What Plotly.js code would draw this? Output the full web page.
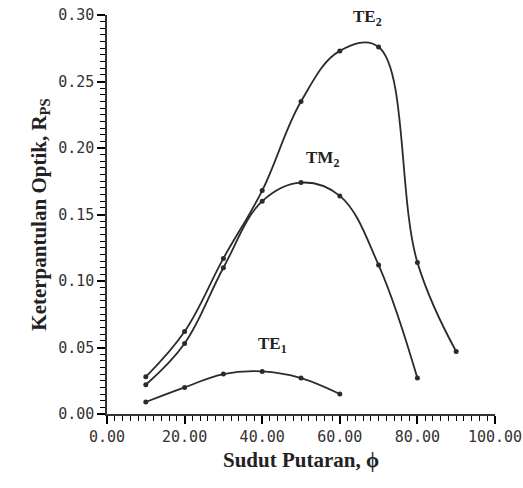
<!DOCTYPE html>
<html><head><meta charset="utf-8">
<script src="https://cdn.plot.ly/plotly-3.0.1.min.js"></script>
<style>html,body{margin:0;padding:0;background:#fff}</style>
</head><body><div id="chart" style="width:523px;height:488px"></div>
<script>
const te2X = [10, 20, 30, 40, 50, 60, 70, 80, 90];
const te2Y = [0.028, 0.062, 0.117, 0.168, 0.235, 0.273, 0.276, 0.114, 0.047];
const tm2X = [10, 20, 30, 40, 50, 60, 70, 80];
const tm2Y = [0.022, 0.053, 0.110, 0.160, 0.174, 0.164, 0.112, 0.027];
const te1X = [10, 20, 30, 40, 50, 60];
const te1Y = [0.009, 0.020, 0.030, 0.032, 0.027, 0.015];
const labels = ['TE<sub>2</sub>', 'TM<sub>2</sub>', 'TE<sub>1</sub>'];
const labelX = [67.2, 55.5, 42.6];
const labelY = [0.298, 0.192, 0.052];
const xRange = [0, 100];
const yRange = [0, 0.30];

const lineCol = '#2b2b2b';
function tr(x, y) {
  return {x: x, y: y, type: 'scatter', mode: 'lines+markers',
    line: {shape: 'spline', smoothing: 1.1, color: lineCol, width: 1.8},
    marker: {size: 5, color: lineCol}, showlegend: false, hoverinfo: 'skip'};
}
const tickFont = {family: 'DejaVu Sans Mono', size: 15, color: '#333'};
const titleFont = {family: 'Liberation Serif', size: 21, color: '#222'};
const base = {showgrid: false, zeroline: false, showline: true, linecolor: '#333', linewidth: 1.5,
  ticks: 'outside', ticklen: 8, tickwidth: 2, tickcolor: 'black', tickfont: tickFont,
  tickformat: '.2f', tick0: 0, automargin: false};
const layout = {
  width: 523, height: 488,
  margin: {l: 107, r: 28, t: 15, b: 74},
  paper_bgcolor: '#fff', plot_bgcolor: '#fff',
  xaxis: Object.assign({}, base, {range: xRange, dtick: 20,
    minor: {ticks: 'outside', dtick: 2, ticklen: 5, tickcolor: 'black', tickwidth: 1.2},
    title: {text: '<b>Sudut Putaran, ϕ</b>', font: titleFont, standoff: 8}}),
  yaxis: Object.assign({}, base, {range: yRange, dtick: 0.05,
    minor: {ticks: 'outside', dtick: 0.005, ticklen: 5, tickcolor: 'black', tickwidth: 1.2},
    title: {text: '<b>Keterpantulan Optik, R<sub>PS</sub></b>', font: titleFont, standoff: 6}}),
  annotations: labels.map((t, i) => ({x: labelX[i], y: labelY[i], xref: 'x', yref: 'y',
    text: '<b>' + t + '</b>', showarrow: false,
    font: {family: 'Liberation Serif', size: 17, color: '#222'}}))
};
Plotly.newPlot('chart', [tr(te2X, te2Y), tr(tm2X, tm2Y), tr(te1X, te1Y)], layout, {displayModeBar: false});
</script></body></html>
